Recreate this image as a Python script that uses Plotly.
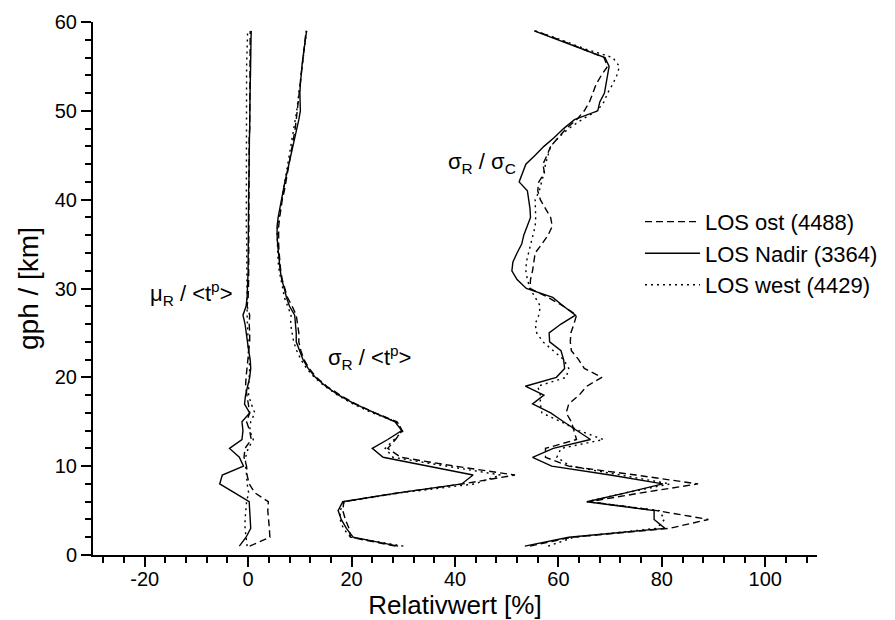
import plotly.graph_objects as go

# altitude levels (km)
gph = list(range(1, 60))

# tick labels
x_tickvals = [-20, 0, 20, 40, 60, 80, 100]
x_ticktext = ["-20", "0", "20", "40", "60", "80", "100"]
y_tickvals = [0, 10, 20, 30, 40, 50, 60]
y_ticktext = ["0", "10", "20", "30", "40", "50", "60"]

# mu_R / <t^p>  [%]
mu_ost = [0.3, 4.2, 4.1, 3.9, 3.8, 3.9, 1.3, 0.2, -0.2, -0.3, -0.8, -0.6, 0.6, 0.3, -0.3, 0.3, 0.0, -0.3, -0.5, -0.4,
          -0.2, 0.0, 0.2, 0.3, 0.3, 0.2, 0.3, -0.2, 0.0, 0.1, 0.1, 0.1, 0.1, 0.1, 0.1, 0.1, 0.1, 0.1, 0.1, 0.1,
          0.2, 0.2, 0.2, 0.2, 0.2, 0.2, 0.2, 0.3, 0.3, 0.3, 0.3, 0.3, 0.3, 0.3, 0.4, 0.4, 0.4, 0.4, 0.4]
mu_nadir = [-1.7, -0.4, 0.5, 0.4, 0.3, 0.2, -2.6, -5.5, -5.0, -0.9, -1.7, -3.6, -1.2, -1.0, -1.2, 0.3, -0.7, -0.5, -0.1, 0.3,
            0.5, 0.4, 0.1, -0.1, -0.3, -0.6, -1.0, -0.4, -0.2, -0.1, 0.0, 0.0, 0.0, 0.0, 0.0, 0.0, 0.05, 0.05, 0.1, 0.1,
            0.1, 0.15, 0.15, 0.2, 0.2, 0.25, 0.25, 0.3, 0.3, 0.35, 0.35, 0.4, 0.4, 0.45, 0.45, 0.5, 0.5, 0.55, 0.6]
mu_west = [-0.2, -0.4, -0.6, -0.6, -0.5, -0.3, 0.1, -0.2, -0.3, -0.5, -0.5, 0.0, 1.0, 0.3, 0.5, 1.3, 0.6, 0.1, 0.1, 0.2,
           0.3, 0.2, 0.0, 0.0, -0.1, -0.1, -0.2, -0.2, -0.2, -0.2, -0.2, -0.3, -0.3, -0.3, -0.3, -0.3, -0.35, -0.35, -0.4, -0.4,
           -0.4, -0.4, -0.4, -0.4, -0.4, -0.4, -0.4, -0.4, -0.4, -0.4, -0.4, -0.35, -0.35, -0.3, -0.3, -0.25, -0.2, -0.15, -0.1]

# sigma_R / <t^p>  [%]
sr_ost = [28.5, 19.8, 19.5, 18.8, 18.3, 18.5, 29.0, 41.5, 51.6, 40.0, 29.5, 27.0, 28.5, 29.8, 28.8, 24.5, 20.8, 17.8, 15.2, 13.2,
          11.8, 10.8, 10.2, 9.8, 9.8, 9.5, 9.3, 8.5, 7.6, 7.1, 6.6, 6.3, 6.1, 6.0, 5.9, 5.9, 5.9, 6.1, 6.3, 6.6,
          7.0, 7.3, 7.7, 8.0, 8.3, 8.6, 8.9, 9.1, 9.3, 9.5, 9.7, 9.8, 10.0, 10.2, 10.4, 10.6, 10.8, 11.0, 11.2]
sr_nadir = [29.0, 20.3, 19.0, 18.0, 17.4, 18.3, 29.0, 41.3, 43.5, 35.0, 26.1, 24.0, 27.0, 29.7, 28.4, 24.5, 20.6, 17.5, 15.0, 13.0,
            11.6, 10.6, 9.9, 9.3, 9.3, 9.1, 9.0, 8.0, 7.4, 7.0, 6.5, 6.2, 6.0, 5.8, 5.7, 5.6, 5.6, 5.8, 6.1, 6.4,
            6.8, 7.1, 7.5, 7.9, 8.3, 8.7, 9.1, 9.4, 9.8, 10.1, 10.0, 10.0, 10.1, 10.2, 10.4, 10.6, 10.8, 11.0, 11.3]
sr_west = [30.0, 19.8, 18.4, 17.8, 17.8, 18.6, 29.5, 43.8, 48.8, 38.0, 28.0, 26.5, 28.3, 30.0, 28.6, 24.0, 20.3, 17.3, 14.8, 12.8,
           11.3, 10.2, 9.4, 8.8, 8.5, 8.2, 8.3, 7.6, 7.0, 6.7, 6.3, 6.0, 5.8, 5.7, 5.6, 5.6, 5.7, 5.9, 6.2, 6.5,
           6.8, 7.1, 7.4, 7.7, 8.0, 8.3, 8.6, 8.9, 9.2, 9.4, 9.6, 9.8, 10.0, 10.2, 10.4, 10.6, 10.8, 11.0, 11.3]

# sigma_R / sigma_C  [%]
sc_ost = [54.5, 62.5, 81.5, 89.0, 79.0, 66.0, 76.0, 87.0, 75.0, 62.0, 57.5, 57.5, 63.5, 63.0, 62.5, 61.5, 62.0, 64.0, 65.5, 68.4,
          65.0, 63.9, 62.5, 62.3, 62.4, 63.0, 63.5, 61.0, 58.0, 54.5, 54.6, 55.0, 55.2, 55.5, 56.8, 58.0, 58.8, 58.5, 57.5, 56.5,
          56.0, 56.2, 57.3, 57.0, 57.8, 58.5, 60.0, 61.5, 63.5, 65.0, 66.0, 66.7, 67.3, 68.3, 69.5, 68.8, 64.5, 60.2, 55.5]
sc_nadir = [53.5, 62.0, 80.6, 78.5, 78.5, 65.5, 73.0, 80.2, 70.0, 58.7, 55.0, 59.0, 66.2, 63.5, 61.0, 58.5, 55.0, 57.2, 53.6, 59.6,
            61.2, 61.0, 60.5, 58.3, 58.2, 60.5, 63.3, 61.0, 58.9, 53.8, 52.0, 51.0, 51.2, 52.0, 52.9, 53.3, 53.9, 54.6, 54.5, 54.3,
            54.0, 52.4, 53.0, 53.7, 55.5, 57.2, 59.2, 61.0, 63.1, 67.6, 68.0, 68.9, 69.2, 69.5, 69.8, 69.0, 64.5, 60.0, 55.3]
sc_west = [58.0, 63.0, 79.0, 80.5, 79.5, 65.5, 73.0, 81.6, 72.0, 62.3, 59.7, 60.5, 68.7, 64.0, 60.5, 56.8, 56.5, 56.5, 56.0, 61.5,
           62.0, 61.0, 59.0, 57.0, 55.8, 55.5, 56.2, 56.5, 55.5, 54.5, 54.0, 53.7, 53.8, 54.2, 54.6, 55.0, 55.5, 55.6, 55.5, 55.5,
           56.3, 56.8, 57.2, 57.5, 58.0, 58.5, 60.0, 62.0, 64.5, 67.5, 68.8, 69.5, 70.5, 71.3, 71.8, 70.5, 65.0, 60.5, 55.5]

series = [
    ("LOS ost (4488)", [mu_ost, sr_ost, sc_ost], "7px,4px"),
    ("LOS Nadir (3364)", [mu_nadir, sr_nadir, sc_nadir], "solid"),
    ("LOS west (4429)", [mu_west, sr_west, sc_west], "2px,4px"),
]

FONT = "Liberation Sans, Arial, sans-serif"
fig = go.Figure()
for name, curves, dash in series:
    for i, xs in enumerate(curves):
        fig.add_trace(go.Scatter(
            x=xs, y=gph, mode="lines", name=name, legendgroup=name,
            showlegend=(i == 0),
            line=dict(color="black", width=1.4, dash=dash),
        ))

ann_font = dict(family=FONT, size=22, color="black")
fig.add_annotation(x=-11.0, y=29.4, text="μ<sub>R</sub> / &lt;t<sup>p</sup>&gt;", showarrow=False,
                   xref="x", yref="y", font=ann_font)
fig.add_annotation(x=23.4, y=22.2, text="σ<sub>R</sub> / &lt;t<sup>p</sup>&gt;", showarrow=False,
                   xref="x", yref="y", font=ann_font)
fig.add_annotation(x=45.2, y=44.1, text="σ<sub>R</sub> / σ<sub>C</sub>", showarrow=False,
                   xref="x", yref="y", font=ann_font)

axis_common = dict(
    showgrid=False, zeroline=False, showline=True, linecolor="black", linewidth=2,
    ticks="outside", ticklen=10, tickwidth=2, tickcolor="black",
    tickfont=dict(family=FONT, size=20, color="black"),
    mirror=False,
)
fig.update_xaxes(
    range=[-30, 110], tickmode="array", tickvals=x_tickvals, ticktext=x_ticktext,
    minor=dict(dtick=4, tick0=0, ticks="outside", ticklen=6, tickwidth=1.5, tickcolor="black"),
    title=dict(text="Relativwert [%]", font=dict(family=FONT, size=26, color="black"), standoff=2),
    ticklabelstandoff=-5,
    **axis_common,
)
fig.update_yaxes(
    range=[0, 60], tickmode="array", tickvals=y_tickvals, ticktext=y_ticktext,
    minor=dict(dtick=2, tick0=0, ticks="outside", ticklen=6, tickwidth=1.5, tickcolor="black"),
    title=dict(text="gph / [km]", font=dict(family=FONT, size=28, color="black"), standoff=8),
    **axis_common,
)

fig.update_layout(
    width=895, height=620,
    margin=dict(l=85, r=86, t=14, b=73, autoexpand=False),
    paper_bgcolor="white", plot_bgcolor="white",
    showlegend=True,
    legend=dict(x=0.7555, y=0.6645, xanchor="left", yanchor="top",
                font=dict(family=FONT, size=22, color="black"),
                bgcolor="rgba(0,0,0,0)", itemwidth=55, tracegroupgap=0),
)

fig.write_html("out.html")
